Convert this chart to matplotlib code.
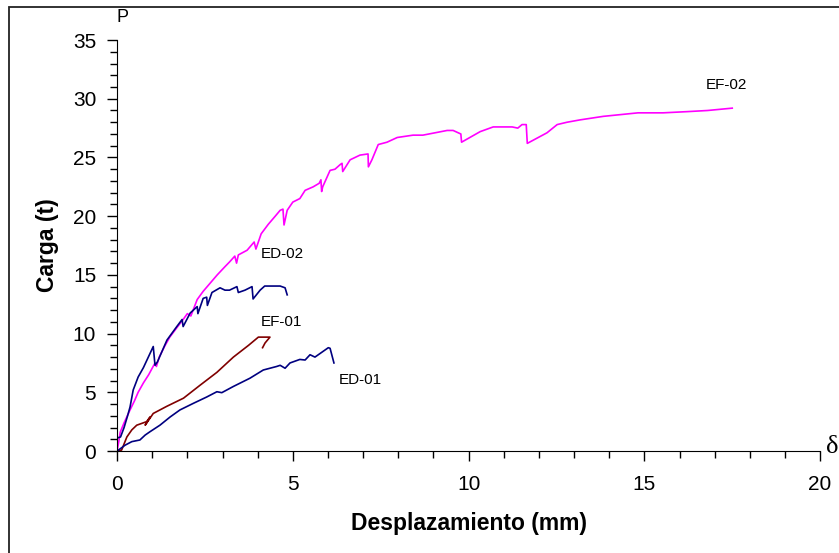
import matplotlib.pyplot as plt
from matplotlib.patches import Rectangle
from matplotlib.ticker import MultipleLocator

plt.rcParams['font.family'] = ['Liberation Sans', 'DejaVu Sans']

# EF-02 (magenta)
ef02_x = [0, 0.05, 0.09, 0.2, 0.37, 0.5, 0.6, 0.75, 0.9, 1.08, 1.12, 1.2, 1.35, 1.5, 1.7,
          1.88, 2.0, 2.1, 2.28, 2.45, 2.65, 2.85, 3.07, 3.2, 3.35, 3.4, 3.45, 3.7, 3.9,
          3.95, 4.1, 4.3, 4.5, 4.64, 4.72, 4.75, 4.84, 5.0, 5.2, 5.35, 5.58, 5.75, 5.8,
          5.82, 5.85, 6.06, 6.2, 6.35, 6.4, 6.42, 6.63, 6.91, 7.14, 7.15, 7.25, 7.43,
          7.68, 7.97, 8.42, 8.7, 9.39, 9.56, 9.78, 9.8, 10.33, 10.7, 11.24, 11.4, 11.52,
          11.64, 11.67, 12.23, 12.52, 12.8, 13.17, 13.83, 14.82, 15.53, 16.2, 16.8, 17.5]
ef02_y = [0, 0.8, 1.6, 2.4, 3.5, 4.3, 5.0, 5.8, 6.5, 7.5, 7.2, 8.0, 8.9, 9.7, 10.5,
          11.2, 11.7, 11.5, 12.9, 13.6, 14.3, 15.0, 15.7, 16.1, 16.6, 16.0, 16.7, 17.1, 17.8,
          17.2, 18.5, 19.3, 20.0, 20.5, 20.6, 19.25, 20.5, 21.2, 21.5, 22.2, 22.5, 22.8, 23.1,
          22.1, 22.5, 23.9, 24.0, 24.4, 24.5, 23.8, 24.8, 25.2, 25.3, 24.2, 24.8, 26.1,
          26.3, 26.7, 26.9, 26.9, 27.3, 27.3, 27.0, 26.3, 27.2, 27.6, 27.6, 27.5, 27.8,
          27.8, 26.2, 27.1, 27.8, 28.0, 28.2, 28.5, 28.8, 28.8, 28.9, 29.0, 29.2]

# ED-02 (navy)
ed02_x = [0, 0.0, 0.1, 0.2, 0.3, 0.37, 0.46, 0.6, 0.75, 0.89, 1.03, 1.08, 1.15, 1.42, 1.7,
          1.85, 1.88, 2.08, 2.28, 2.3, 2.45, 2.55, 2.57, 2.7, 2.93, 3.07, 3.2, 3.41, 3.45,
          3.64, 3.84, 3.87, 4.07, 4.2, 4.64, 4.78, 4.84]
ed02_y = [0, 1.1, 1.2, 2.0, 3.0, 3.75, 5.2, 6.3, 7.1, 8.0, 8.9, 7.3, 7.6, 9.45, 10.6,
          11.2, 10.6, 11.75, 12.3, 11.7, 13.0, 13.1, 12.4, 13.5, 13.9, 13.7, 13.7, 14.0, 13.5,
          13.7, 14.0, 12.95, 13.7, 14.05, 14.05, 13.9, 13.3]

# EF-01 (maroon)
ef01_x = [0.03, 0.13, 0.28, 0.42, 0.56, 0.84, 0.94, 0.8, 1.03, 1.41, 1.89, 2.36, 2.84,
          3.31, 3.74, 4.02, 4.35, 4.21, 4.14]
ef01_y = [0.0, 0.08, 1.2, 1.8, 2.2, 2.5, 2.9, 2.2, 3.2, 3.8, 4.5, 5.6, 6.7,
          8.0, 9.0, 9.7, 9.7, 9.2, 8.8]

# ED-01 (navy)
ed01_x = [0.04, 0.23, 0.42, 0.65, 0.8, 0.94, 1.22, 1.51, 1.79, 2.17, 2.55, 2.84, 2.98,
          3.31, 3.78, 4.16, 4.54, 4.64, 4.78, 4.92, 5.2, 5.35, 5.49, 5.63, 5.82, 6.01,
          6.06, 6.17]
ed01_y = [0.08, 0.5, 0.8, 0.94, 1.36, 1.65, 2.2, 2.9, 3.5, 4.06, 4.6, 5.05, 4.97,
          5.5, 6.2, 6.9, 7.2, 7.3, 7.05, 7.5, 7.8, 7.75, 8.2, 8.0, 8.4, 8.8,
          8.75, 7.5]

labels = ['EF-02', 'ED-02', 'EF-01', 'ED-01']
label_x = [17.33, 4.69, 4.69, 6.91]
label_y = [31.2, 16.8, 11.0, 6.05]

fig = plt.figure(figsize=(8.39, 5.53), dpi=100)
ax = fig.add_axes([0.1395, 0.1844, 0.838, 0.7432])

ax.plot(ef02_x, ef02_y, color='#ff00ff', lw=1.2)
ax.plot(ed02_x, ed02_y, color='#000080', lw=1.2)
ax.plot(ef01_x, ef01_y, color='#800000', lw=1.2)
ax.plot(ed01_x, ed01_y, color='#000080', lw=1.2)

for t, x, y in zip(labels, label_x, label_y):
    ax.text(x, y, t, fontsize=11, ha='center', va='center')

ax.set_xlim(0, 20)
ax.set_ylim(0, 35)
ax.xaxis.set_major_locator(MultipleLocator(5))
ax.xaxis.set_minor_locator(MultipleLocator(1))
ax.yaxis.set_major_locator(MultipleLocator(5))
ax.yaxis.set_minor_locator(MultipleLocator(1))
ax.tick_params(which='major', length=7, width=1, labelsize=15, pad=8)
ax.tick_params(axis='x', which='major', pad=10)
ax.tick_params(which='minor', length=5, width=1)

for s in ['top', 'right']:
    ax.spines[s].set_visible(False)

ax.set_xlabel('Desplazamiento (mm)', fontsize=16.5, fontweight='bold', labelpad=13)
ax.set_ylabel('Carga (t)', fontsize=16.5, fontweight='bold', labelpad=10)

fig.text(123 / 839, 1 - 18 / 553, 'P', fontsize=13, ha='center', va='center')
fig.text(832 / 839, 1 - 447 / 553, 'δ', fontsize=19, ha='center', va='center',
         family=['Liberation Serif', 'DejaVu Serif'])

fig.patches.append(Rectangle((9 / 839, -0.1), 1.2, 1.1 - 7 / 553, transform=fig.transFigure,
                             fill=False, edgecolor='#222222', lw=1.3))

fig.savefig('out.png', dpi=100)
